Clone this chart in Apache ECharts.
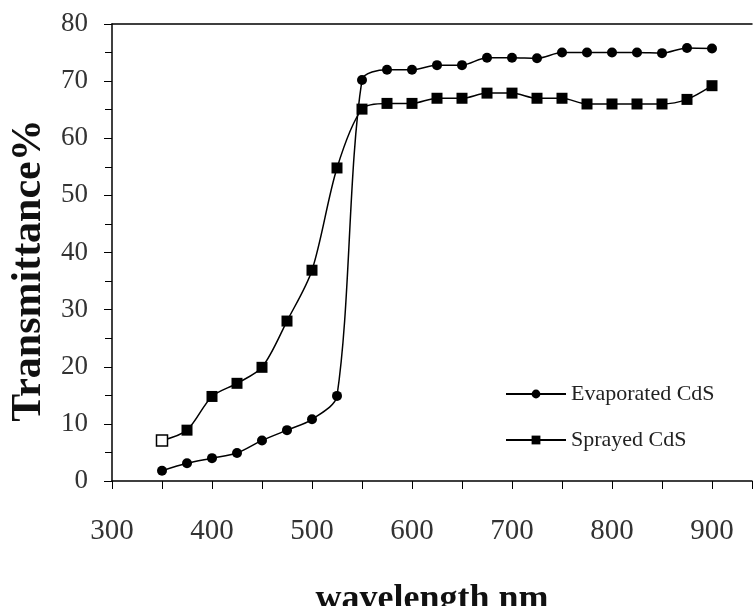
<!DOCTYPE html>
<html>
<head>
<meta charset="UTF-8">
<title>Transmittance</title>
<script src="https://cdn.jsdelivr.net/npm/echarts@6/dist/echarts.min.js"></script>
<style>
  html, body { margin: 0; padding: 0; background: #fff; }
  #main { width: 753px; height: 606px; }
</style>
</head>
<body>
<div id="main"></div>
<script>
// wavelength (nm)
var wavelength = [350, 375, 400, 425, 450, 475, 500, 525, 550, 575, 600, 625, 650,
                  675, 700, 725, 750, 775, 800, 825, 850, 875, 900];
// transmittance %
var evaporated = [1.8, 3.1, 4.0, 4.9, 7.1, 8.9, 10.8, 14.9, 70.2, 72.0, 72.0, 72.8, 72.8,
                  74.1, 74.1, 74.0, 75.0, 75.0, 75.0, 75.0, 74.9, 75.8, 75.7];
var sprayed = [7.1, 8.9, 14.8, 17.1, 19.9, 28.0, 36.9, 54.8, 65.1, 66.1, 66.1, 67.0, 67.0,
               67.9, 67.9, 67.0, 67.0, 66.0, 66.0, 66.0, 66.0, 66.8, 69.2];
var seriesNames = ['Evaporated CdS', 'Sprayed CdS'];

var serif = "'Liberation Serif', 'Times New Roman', serif";

function pairs(ys) {
  var out = [];
  for (var i = 0; i < wavelength.length; i++) out.push([wavelength[i], ys[i]]);
  return out;
}

var sprayedData = pairs(sprayed);
// first sprayed marker appears hollow in the original
sprayedData[0] = { value: sprayedData[0], itemStyle: { color: '#fff', borderColor: '#000', borderWidth: 1.5 } };

var chart = echarts.init(document.getElementById('main'));
chart.setOption({
  animation: false,
  backgroundColor: '#fff',
  grid: { left: 112, top: 24, right: 1, bottom: 125, containLabel: false, outerBoundsMode: 'none' },
  legend: {
    orient: 'vertical',
    left: 500,
    top: 378,
    itemWidth: 60,
    itemHeight: 11,
    itemGap: 24,
    textStyle: { fontFamily: serif, fontSize: 22, color: '#222' },
    data: seriesNames
  },
  xAxis: [{
    type: 'value',
    min: 300,
    max: 940,
    interval: 100,
    name: 'wavelength nm',
    nameLocation: 'middle',
    nameGap: 101,
    nameTextStyle: { fontFamily: serif, fontSize: 36, fontWeight: 'bold', color: '#111' },
    axisLine: { show: true, lineStyle: { color: '#000', width: 1.5 } },
    axisTick: { show: true, inside: false, length: 8, lineStyle: { color: '#000' } },
    minorTick: { show: true, splitNumber: 2, length: 8, lineStyle: { color: '#000' } },
    axisLabel: { fontFamily: serif, fontSize: 29, color: '#333', margin: 36, showMaxLabel: false },
    splitLine: { show: false }
  }, {
    type: 'value',
    position: 'top',
    min: 300,
    max: 940,
    axisLine: { show: true, lineStyle: { color: '#000', width: 1.5 } },
    axisTick: { show: false },
    axisLabel: { show: false },
    splitLine: { show: false }
  }],
  yAxis: {
    type: 'value',
    min: 0,
    max: 80,
    interval: 10,
    name: 'Transmittance%',
    nameLocation: 'middle',
    nameGap: 62,
    nameTextStyle: { fontFamily: serif, fontSize: 42, fontWeight: 'bold', color: '#111', padding: [0, 36, 0, 0] },
    axisLine: { show: true, lineStyle: { color: '#000', width: 1.5 } },
    axisTick: { show: true, inside: false, length: 8, lineStyle: { color: '#000' } },
    minorTick: { show: true, splitNumber: 2, length: 7, lineStyle: { color: '#000' } },
    axisLabel: { fontFamily: serif, fontSize: 27, color: '#333', margin: 24 },
    splitLine: { show: false }
  },
  series: [{
    name: seriesNames[0],
    type: 'line',
    smooth: 0.3,
    symbol: 'circle',
    symbolSize: 10,
    itemStyle: { color: '#000' },
    lineStyle: { color: '#000', width: 1.5 },
    data: pairs(evaporated)
  }, {
    name: seriesNames[1],
    type: 'line',
    smooth: 0.3,
    symbol: 'rect',
    symbolSize: 11,
    itemStyle: { color: '#000' },
    lineStyle: { color: '#000', width: 1.5 },
    data: sprayedData
  }]
});
</script>
</body>
</html>
